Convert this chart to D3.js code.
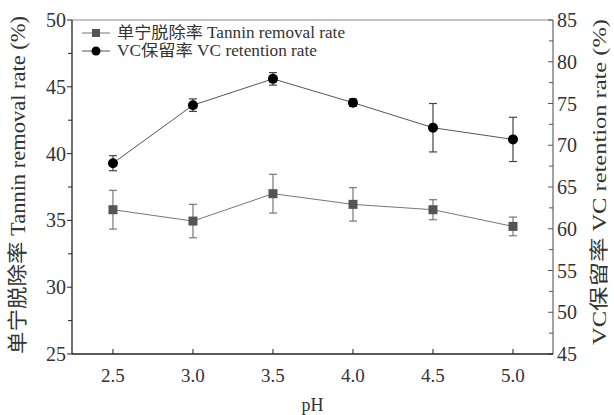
<!DOCTYPE html>
<html lang="zh">
<head>
<meta charset="UTF-8">
<title>pH effect</title>
<script src="https://d3js.org/d3.v7.min.js"></script>
<style>
  body { margin: 0; background: #fff; }
  text { font-family: "Liberation Serif", "Noto Sans CJK SC", serif; fill: #333; }
</style>
</head>
<body>
<svg width="614" height="415"></svg>
<script>
// data
var ph = [2.5, 3.0, 3.5, 4.0, 4.5, 5.0];
var tannin = [35.8, 34.95, 37.0, 36.2, 35.8, 34.55];
var tanninErr = [1.45, 1.25, 1.45, 1.25, 0.75, 0.7];
var vc = [67.85, 74.8, 77.95, 75.1, 72.1, 70.7];
var vcErr = [0.9, 0.75, 0.75, 0.45, 2.9, 2.65];
var xTicks = [2.5, 3.0, 3.5, 4.0, 4.5, 5.0];
var leftTicks = [25, 30, 35, 40, 45, 50];
var rightTicks = [45, 50, 55, 60, 65, 70, 75, 80, 85];

var svg = d3.select("svg");
var L = 72, R = 553, T = 20, B = 354;

var x = d3.scaleLinear().domain([2.244, 5.25]).range([L, R]);
var yL = d3.scaleLinear().domain([25, 50]).range([B, T]);
var yR = d3.scaleLinear().domain([45, 85]).range([B, T]);

// frame: top lighter
svg.append("line").attr("x1", L).attr("x2", R).attr("y1", T).attr("y2", T)
    .attr("stroke", "#888").attr("stroke-width", 1.2);

// left axis
var gL = svg.append("g").attr("transform", "translate(" + L + ",0)");
gL.append("line").attr("y1", T).attr("y2", B).attr("stroke", "#222").attr("stroke-width", 1.3);
gL.selectAll(".minor").data(d3.range(27.5, 50, 5)).enter().append("line")
    .attr("x1", 0).attr("x2", -4).attr("y1", d => yL(d)).attr("y2", d => yL(d))
    .attr("stroke", "#222");
gL.selectAll(".major").data(leftTicks).enter().append("line")
    .attr("x1", 0).attr("x2", -5).attr("y1", d => yL(d)).attr("y2", d => yL(d))
    .attr("stroke", "#222");
gL.selectAll("text").data(leftTicks).enter().append("text")
    .attr("x", -6).attr("y", d => yL(d) + 7)
    .attr("text-anchor", "end").style("font-size", "20px")
    .text(d => d);

// right axis
var gR = svg.append("g").attr("transform", "translate(" + R + ",0)");
gR.append("line").attr("y1", T).attr("y2", B).attr("stroke", "#666").attr("stroke-width", 1.2);
gR.selectAll(".minor").data(d3.range(47.5, 85, 5)).enter().append("line")
    .attr("x1", 0).attr("x2", -4).attr("y1", d => yR(d)).attr("y2", d => yR(d))
    .attr("stroke", "#555");
gR.selectAll(".major").data(rightTicks).enter().append("line")
    .attr("x1", 0).attr("x2", -5).attr("y1", d => yR(d)).attr("y2", d => yR(d))
    .attr("stroke", "#555");
gR.selectAll("text").data(rightTicks).enter().append("text")
    .attr("x", 4).attr("y", d => yR(d) + 7)
    .style("font-size", "20px")
    .text(d => d);

// bottom axis
var gB = svg.append("g").attr("transform", "translate(0," + B + ")");
gB.append("line").attr("x1", L).attr("x2", R).attr("stroke", "#222").attr("stroke-width", 1.3);
gB.selectAll(".tick").data(xTicks).enter().append("line")
    .attr("x1", d => x(d)).attr("x2", d => x(d)).attr("y1", 0).attr("y2", -5)
    .attr("stroke", "#222");
gB.selectAll("text").data(xTicks).enter().append("text")
    .attr("x", d => x(d)).attr("y", 28)
    .attr("text-anchor", "middle").style("font-size", "19px")
    .text(d => d.toFixed(1));

svg.append("text").attr("x", (L + R) / 2).attr("y", 411)
    .attr("text-anchor", "middle").style("font-size", "18px").text("pH");

svg.append("text")
    .attr("transform", "translate(25,185) rotate(-90)")
    .attr("text-anchor", "middle").style("font-size", "20px")
    .attr("textLength", 338).attr("lengthAdjust", "spacingAndGlyphs")
    .text("单宁脱除率 Tannin removal rate (%)");

svg.append("text")
    .attr("transform", "translate(606,182) rotate(-90)")
    .attr("text-anchor", "middle").style("font-size", "19px")
    .attr("textLength", 326).attr("lengthAdjust", "spacingAndGlyphs")
    .text("VC保留率 VC retention rate (%)");

// series
function drawSeries(vals, errs, y, lineColor, errColor) {
    var pts = ph.map((p, i) => ({x: p, y: vals[i], e: errs[i]}));
    svg.append("path").datum(pts)
        .attr("d", d3.line().x(d => x(d.x)).y(d => y(d.y)))
        .attr("fill", "none").attr("stroke", lineColor).attr("stroke-width", 1);
    var g = svg.append("g");
    pts.forEach(function (d) {
        g.append("line").attr("x1", x(d.x)).attr("x2", x(d.x))
            .attr("y1", y(d.y - d.e)).attr("y2", y(d.y + d.e))
            .attr("stroke", errColor).attr("stroke-width", 1.2);
        [d.y - d.e, d.y + d.e].forEach(function (v) {
            g.append("line").attr("x1", x(d.x) - 4).attr("x2", x(d.x) + 4)
                .attr("y1", y(v)).attr("y2", y(v))
                .attr("stroke", errColor).attr("stroke-width", 1.2);
        });
    });
    return pts;
}

var tp = drawSeries(tannin, tanninErr, yL, "#777", "#777");
svg.selectAll(".sq").data(tp).enter().append("rect")
    .attr("x", d => x(d.x) - 4.5).attr("y", d => yL(d.y) - 4.5)
    .attr("width", 9).attr("height", 9).attr("fill", "#555");

var vp = drawSeries(vc, vcErr, yR, "#555", "#444");
svg.selectAll(".dot").data(vp).enter().append("circle")
    .attr("cx", d => x(d.x)).attr("cy", d => yR(d.y)).attr("r", 5)
    .attr("fill", "#000");

// legend
var lg = svg.append("g").attr("transform", "translate(82,33)");
lg.append("line").attr("x1", 0).attr("x2", 28).attr("stroke", "#777");
lg.append("rect").attr("x", 10).attr("y", -4).attr("width", 8).attr("height", 8).attr("fill", "#555");
lg.append("text").attr("x", 35).attr("y", 5).style("font-size", "16px")
    .attr("textLength", 228).attr("lengthAdjust", "spacingAndGlyphs")
    .text("单宁脱除率 Tannin removal rate");
lg.append("line").attr("x1", 0).attr("x2", 28).attr("y1", 18).attr("y2", 18).attr("stroke", "#555");
lg.append("circle").attr("cx", 14).attr("cy", 18).attr("r", 4.5).attr("fill", "#000");
lg.append("text").attr("x", 35).attr("y", 23).style("font-size", "16px")
    .attr("textLength", 200).attr("lengthAdjust", "spacingAndGlyphs")
    .text("VC保留率 VC retention rate");
</script>
</body>
</html>
